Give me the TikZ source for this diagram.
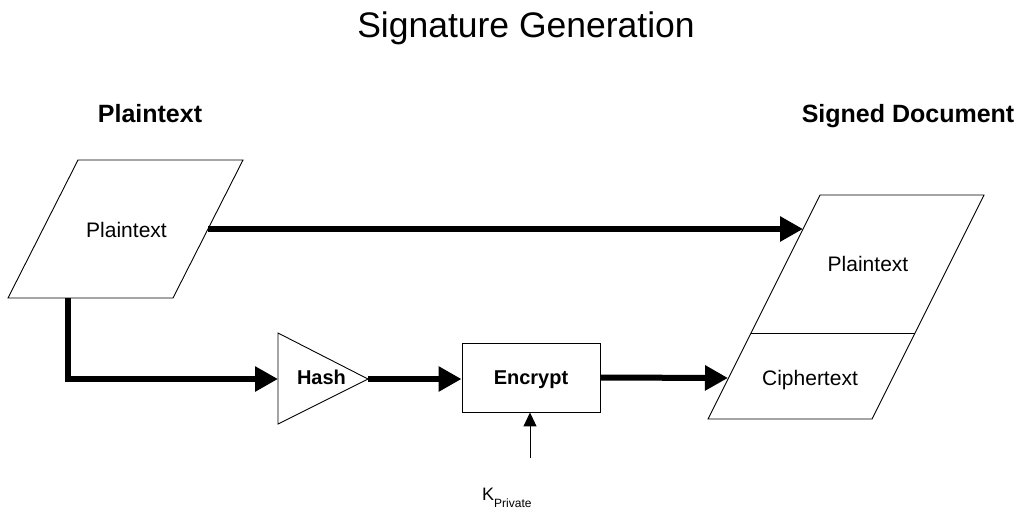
\documentclass[tikz,border=0pt]{standalone}
\usepackage{fontspec}
\setmainfont{Liberation Sans}
\usetikzlibrary{arrows.meta,calc}
\begin{document}
\begin{tikzpicture}[x=1pt,y=-1pt,
  outline/.style={draw=black, line width=0.9pt, line join=miter},
  flow/.style={line width=6pt, -{Triangle[length=23pt,width=24pt]}},
  keyarrow/.style={line width=1pt, -{Triangle[length=14pt,width=13pt]}},
  body/.style={font=\fontsize{21}{24}\selectfont, inner sep=0pt, anchor=base},
  boldbody/.style={font=\bfseries\fontsize{20}{24}\selectfont, inner sep=0pt, anchor=base},
  heading/.style={font=\bfseries\fontsize{25}{30}\selectfont, inner sep=0pt, anchor=base},
  titlefont/.style={font=\fontsize{35.5}{40}\selectfont, inner sep=0pt, anchor=base},
]
\useasboundingbox (0,0) rectangle (1025,512);
\fill[white] (0,0) rectangle (1025,512);

% title and column headings
\node[titlefont] (title) at (526,37) {Signature Generation};
\node[heading] (head-src) at (150,122) {Plaintext};
\node[heading] (head-doc) at (908,122) {Signed Document};

% input document (parallelogram)
\coordinate (src-tl) at (78,160);
\coordinate (src-tr) at (243,160);
\coordinate (src-br) at (173,298);
\coordinate (src-bl) at (8,298);
\draw[outline] (src-tl) -- (src-tr) -- (src-br) -- (src-bl) -- cycle;
\node[body] (src-text) at (126.5,237) {Plaintext};
\coordinate (src-out) at (208,229);
\coordinate (src-down) at (68,298);
\coordinate (src-bend) at (68,379);

% signed document (parallelogram split in two parts)
\coordinate (doc-tl) at (820,195);
\coordinate (doc-tr) at (984,195);
\coordinate (doc-ml) at (751,333);
\coordinate (doc-mr) at (915,333);
\coordinate (doc-bl) at (708,419);
\coordinate (doc-br) at (872,419);
\draw[outline] (doc-tl) -- (doc-tr) -- (doc-br) -- (doc-bl) -- cycle;
\draw[outline] (doc-ml) -- (doc-mr);
\node[body] (doc-plain) at (868,271) {Plaintext};
\node[body] (doc-cipher) at (810,385) {Ciphertext};
\coordinate (doc-in-top) at (803,229);
\coordinate (doc-in-bot) at (728,378);

% hash stage (triangle)
\coordinate (hash-top) at (278,333);
\coordinate (hash-bot) at (278,424);
\coordinate (hash-tip) at (368,379);
\draw[outline] (hash-top) -- (hash-tip) -- (hash-bot) -- cycle;
\coordinate (hash-in) at (278,379);
\node[boldbody] (hash-text) at (321.5,384) {Hash};

% encryption stage
\node[outline, minimum width=138pt, minimum height=69pt, inner sep=0pt]
  (encrypt) at (531,377.5) {};
\node[boldbody] (encrypt-text) at (531,384) {Encrypt};

% private key
\node[font=\fontsize{18}{20}\selectfont, inner sep=0pt, anchor=base west]
  (key) at (482,500) {K\raisebox{-7pt}{\fontsize{12}{12}\selectfont Private}};
\coordinate (key-top) at (530,458);

% connectors
\draw[flow] (src-out) -- (doc-in-top);
\draw[flow] (src-down) -- (src-bend) -- (hash-in);
\draw[flow] (hash-tip) -- (encrypt.west |- hash-tip);
\draw[flow] (encrypt.east) -- (doc-in-bot);
\draw[keyarrow] (key-top) -- (encrypt.south -| key-top);
\end{tikzpicture}
\end{document}
